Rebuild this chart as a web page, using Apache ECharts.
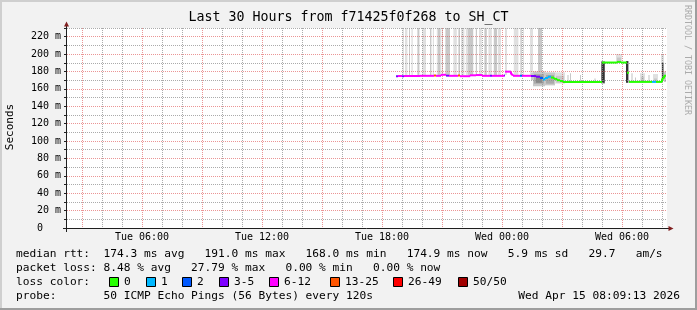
<!DOCTYPE html>
<html><head><meta charset="utf-8">
<script src="https://cdn.jsdelivr.net/npm/echarts@6/dist/echarts.min.js"></script>
<style>html,body{margin:0;padding:0;background:#f2f2f2}#c{width:697px;height:310px}</style>
</head><body><div id="c"></div>
<script>
// ---------- data ----------
const titleText = 'Last 30 Hours from f71425f0f268 to SH_CT';
// x values are hours since Tue 00:00
const xLabelHours = [6, 12, 18, 24, 30];
const xLabelTexts = ['Tue 06:00', 'Tue 12:00', 'Tue 18:00', 'Wed 00:00', 'Wed 06:00'];
const lossLabels = ['0', '1', '2', '3-5', '6-12', '13-25', '26-49', '50/50'];
const lossColors = ['#26ff00', '#00b8ff', '#0059ff', '#7e00ff', '#ff00ff', '#ff5500', '#ff0000', '#a10000'];
const smokeShades = ['#e0e0e0', '#c8c8c8', '#aaaaaa', '#888888', '#333333'];

// median rtt steps: start hour, value (ms), loss class index
const medianStart = [18.70,18.80,19.00,19.10,19.90,20.60,20.70,20.95,21.20,21.35,21.80,21.90,22.40,22.70,23.00,23.40,23.50,24.10,24.15,24.45,24.55,24.90,25.00,25.45,25.70,25.90,26.05,26.15,26.30,26.45,26.60,26.75,26.90,27.05,29.00,29.75,29.95,30.25,30.35,31.50,31.70,32.00,32.10];
const medianMs = [174.5,174.8,174.5,174.8,175.0,175.3,175.0,176.2,175.2,175.0,175.4,174.6,175.6,175.9,175.0,175.2,175.0,175.5,179.8,176.5,175.0,175.0,175.0,174.8,174.0,172.5,170.8,172.5,174.0,173.0,171.5,170.0,169.0,168.0,190.3,191.0,190.3,178.5,168.0,168.0,168.0,172.0,175.0];
const medianLoss = [3,4,3,4,4,5,4,4,3,4,5,4,4,4,4,3,4,3,4,4,4,2,4,3,3,2,1,1,1,0,0,0,0,0,0,0,0,0,0,1,0,0,0];
const medianEnd = 32.2;

// smoke: [start hour, end hour, low ms, high ms, shade index]
const smokeBands = [
  [19.03,19.10,176,240,0],[19.15,19.27,176,240,0],[19.35,19.40,176,240,1],[19.47,19.54,176,240,0],
  [19.77,19.87,176,240,1],[20.02,20.20,176,240,0],[20.40,20.47,176,240,1],[20.54,20.60,176,240,0],
  [20.74,20.95,176,240,0],[20.80,20.90,176,240,1],[20.99,21.04,176,240,1],[21.17,21.40,176,240,1],
  [21.57,21.74,176,240,0],[21.82,21.90,176,240,1],[21.95,22.12,176,240,0],[22.19,22.57,176,240,0],
  [22.30,22.55,176,240,1],[22.69,22.75,176,240,1],[22.85,22.99,176,240,0],[23.12,23.24,176,240,1],
  [23.32,23.49,176,240,0],[23.59,23.75,176,240,1],[23.79,23.95,176,240,0],[24.15,24.25,176,240,0],
  [24.59,24.82,175,240,0],[24.92,24.99,175,240,1],[25.05,25.10,175,240,0],[25.40,25.55,175,240,0],
  [25.80,26.00,174,240,1],
  [25.45,25.60,170,178,1],
  [25.55,26.15,163,180,1],[25.60,26.10,166,177,2],[25.70,26.00,167,175,3],
  [26.15,26.65,164,179,1],[26.20,26.60,166,176,2],
  [26.65,27.15,166,179,0],[26.70,27.10,167,175,1],
  [27.25,27.35,168,176,0],[27.40,27.45,168,178,1],[27.90,27.95,168,176,1],[28.60,28.70,168,172,0],
  [28.95,29.15,166,192,2],[28.98,29.13,167,191,4],
  [29.70,30.00,190,200,0],[29.75,29.95,191,196,1],
  [30.20,30.32,167,192,4],
  [30.45,30.55,168,178,0],[30.65,30.70,168,173,1],
  [30.90,31.15,168,178,0],[30.95,31.10,168,174,1],
  [31.30,31.40,168,176,0],
  [31.55,31.80,168,177,0],[31.60,31.75,168,172,1],
  [31.95,32.10,170,200,0],[32.00,32.07,171,190,4],
  [32.10,32.20,168,180,1]
];

const legendRow1 = 'median rtt:  174.3 ms avg   191.0 ms max   168.0 ms min   174.9 ms now   5.9 ms sd   29.7   am/s';
const legendRow2 = 'packet loss: 8.48 % avg   27.79 % max   0.00 % min   0.00 % now';
const legendRow3 = 'loss color:';
const legendRow4 = 'probe:       50 ICMP Echo Pings (56 Bytes) every 120s';
const dateText = 'Wed Apr 15 08:09:13 2026';
const yTitle = 'Seconds';
const watermark = 'RRDTOOL / TOBI OETIKER';

// ---------- layout ----------
const GL = 67, GT = 28, GW = 600, GH = 200;
const MONO = '"DejaVu Sans Mono", monospace';
const RED = 'rgba(222,79,79,0.6)', GRAY = 'rgba(143,143,143,0.75)', T = 'rgba(0,0,0,0)';
const LEG_FONT = '11.2px ' + MONO;
const lossBoxX = [109, 146, 182, 219, 269, 330, 393, 458];

const medianData = medianStart.map((t, i) => [
  t, i + 1 < medianStart.length ? medianStart[i + 1] : medianEnd,
  medianMs[i], i > 0 ? medianMs[i - 1] : medianMs[i], medianLoss[i], i > 0 ? medianLoss[i - 1] : -1
]);

const graphics = [
  {type:'rect', shape:{x:0,y:0,width:697,height:2}, style:{fill:'#cfcfcf'}, z:20},
  {type:'rect', shape:{x:0,y:0,width:2,height:310}, style:{fill:'#cfcfcf'}, z:20},
  {type:'rect', shape:{x:695,y:0,width:2,height:310}, style:{fill:'#9e9e9e'}, z:20},
  {type:'rect', shape:{x:0,y:308,width:697,height:2}, style:{fill:'#9e9e9e'}, z:20},
  {type:'line', shape:{x1:GL-0.5,y1:GT+GH+4,x2:GL-0.5,y2:GT-4}, style:{stroke:'#1f1f1f',lineWidth:1}, z:20},
  {type:'line', shape:{x1:GL-4,y1:GT+GH+0.5,x2:GL+GW+3,y2:GT+GH+0.5}, style:{stroke:'#1f1f1f',lineWidth:1}, z:20},
  {type:'polygon', shape:{points:[[GL-0.5,GT-6.5],[GL-3,GT-1.5],[GL+2,GT-1.5]]}, style:{fill:'#801f1f'}, z:21},
  {type:'polygon', shape:{points:[[GL+GW+6.5,GT+GH+0.5],[GL+GW+1.5,GT+GH-2],[GL+GW+1.5,GT+GH+3]]}, style:{fill:'#801f1f'}, z:21},
  {type:'text', x:10, y:127, rotation:Math.PI/2, style:{text:yTitle, font:'11px '+MONO, fill:'#000', align:'center', verticalAlign:'middle'}, z:20},
  {type:'text', x:687, y:5, rotation:-Math.PI/2, style:{text:watermark, font:'8.3px '+MONO, fill:'#ababab', align:'left', verticalAlign:'middle'}, z:20},
  {type:'text', x:16, y:254.5, style:{text:legendRow1, font:LEG_FONT, fill:'#000', verticalAlign:'middle'}, z:20},
  {type:'text', x:16, y:268.5, style:{text:legendRow2, font:LEG_FONT, fill:'#000', verticalAlign:'middle'}, z:20},
  {type:'text', x:16, y:282.5, style:{text:legendRow3, font:LEG_FONT, fill:'#000', verticalAlign:'middle'}, z:20},
  {type:'text', x:16, y:296.5, style:{text:legendRow4, font:LEG_FONT, fill:'#000', verticalAlign:'middle'}, z:20},
  {type:'text', x:680, y:296.5, style:{text:dateText, font:LEG_FONT, fill:'#000', align:'right', verticalAlign:'middle'}, z:20}
];
lossLabels.forEach((lab, i) => {
  graphics.push({type:'rect', shape:{x:lossBoxX[i]+0.5,y:277.5,width:9,height:9}, style:{fill:lossColors[i], stroke:'#000', lineWidth:1}, z:20});
  graphics.push({type:'text', x:lossBoxX[i]+15, y:282.5, style:{text:lab, font:LEG_FONT, fill:'#000', verticalAlign:'middle'}, z:20});
});

const chart = echarts.init(document.getElementById('c'), null, {renderer:'canvas'});
chart.setOption({
  backgroundColor:'#f2f2f2',
  animation:false,
  title:{text:titleText, left:'center', top:11, padding:0,
    textStyle:{fontFamily:MONO, fontSize:13.3, fontWeight:'normal', color:'#000'}},
  grid:{left:GL, top:GT, width:GW, height:GH, show:true, backgroundColor:'#ffffff', borderWidth:0},
  xAxis:{type:'value', min:2.25, max:32.25, interval:0.25, z:3,
    axisLine:{show:false}, axisTick:{show:false},
    axisLabel:{margin:4, fontFamily:MONO, fontSize:10, color:'#000', showMinLabel:true, showMaxLabel:true,
      formatter:v => { const i = xLabelHours.indexOf(Math.round(v*4)/4); return i >= 0 ? xLabelTexts[i] : ''; }},
    splitLine:{show:true, lineStyle:{color:[T,T,T,RED,T,T,T,GRAY,T,T,T,GRAY], type:[1,1], width:1}}},
  yAxis:{type:'value', min:0, max:230, interval:10, z:3,
    axisLine:{show:false},
    axisTick:{show:true, length:3, lineStyle:{color:'#1f1f1f'}},
    axisLabel:{margin:6, fontFamily:MONO, fontSize:10, color:'#000',
      formatter:v => (v % 20 !== 0) ? '' : (v === 0 ? '0\u00a0\u00a0\u00a0' : v + ' m')},
    splitLine:{show:true, lineStyle:{color:[RED,GRAY], type:[1,1], width:1}}},
  graphic:graphics,
  series:[
    {type:'custom', z:2, silent:true, data:smokeBands,
      renderItem:(params, api) => {
        const p0 = api.coord([api.value(0), api.value(3)]);
        const p1 = api.coord([api.value(1), api.value(2)]);
        const r = echarts.graphic.clipRectByRect({x:p0[0], y:p0[1], width:p1[0]-p0[0], height:p1[1]-p0[1]}, params.coordSys);
        return r ? {type:'rect', shape:r, style:{fill:smokeShades[api.value(4)]}} : null;
      }},
    {type:'custom', z:4, silent:true, data:medianData,
      renderItem:(params, api) => {
        const t0 = api.value(0), t1 = api.value(1), v = api.value(2), pv = api.value(3);
        const c = lossColors[api.value(4)];
        const a = api.coord([t0, v]), b = api.coord([t1, v]), p = api.coord([t0, pv]);
        const kids = [{type:'line', shape:{x1:a[0], y1:a[1], x2:b[0], y2:b[1]}, style:{stroke:c, lineWidth:2}}];
        if (api.value(5) === api.value(4) && Math.abs(v - pv) <= 4) {
          kids.push({type:'line', shape:{x1:p[0], y1:p[1], x2:a[0], y2:a[1]}, style:{stroke:c, lineWidth:2}});
        }
        return {type:'group', children:kids};
      }}
  ]
});
</script></body></html>
